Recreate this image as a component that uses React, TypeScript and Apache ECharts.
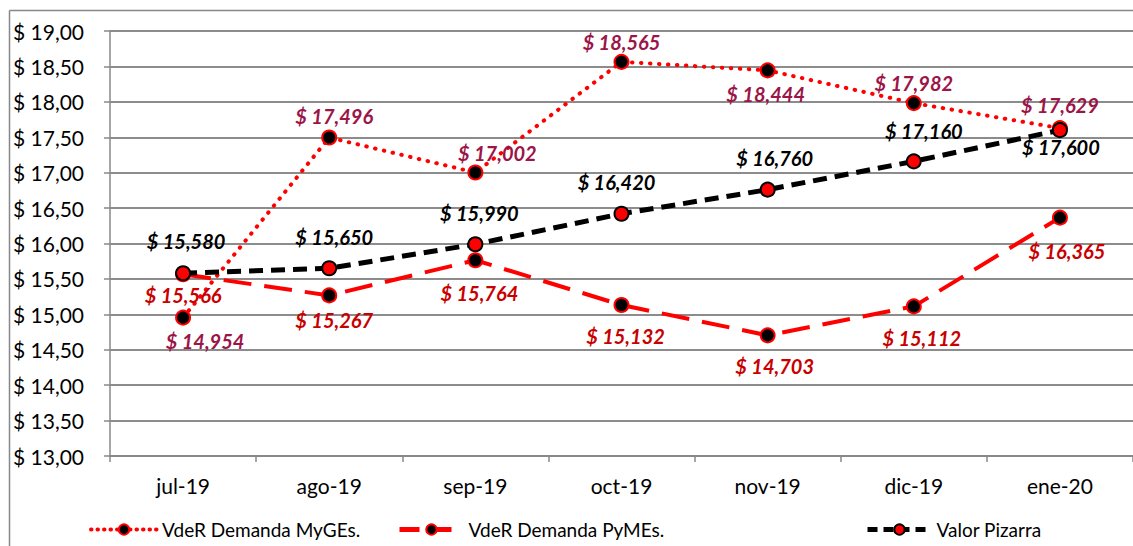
import React, { useEffect, useRef } from "react";
import * as echarts from "echarts";

const categories = ["jul-19", "ago-19", "sep-19", "oct-19", "nov-19", "dic-19", "ene-20"];
const mygesValues = [14.954, 17.496, 17.002, 18.565, 18.444, 17.982, 17.629];
const pymesValues = [15.566, 15.267, 15.764, 15.132, 14.703, 15.112, 16.365];
const pizarraValues = [15.58, 15.65, 15.99, 16.42, 16.76, 17.16, 17.6];

const mygesLabelOffsets = [[22, 23], [5, -22], [22, -20], [0, -20], [-2, 24], [0, -20], [0, -23]];
const pymesLabelOffsets = [[0, 21], [5, 25], [4, 33], [4, 31], [7, 31], [8, 32], [7, 33]];
const pizarraLabelOffsets = [[3, -32], [5, -31], [4, -31], [-5, -32], [7, -32], [10, -30], [1, 17]];

const FONT = "Lato, 'Open Sans', sans-serif";

const fmt = (v: number, d: number) => "$ " + v.toFixed(d).replace(".", ",");

function buildData(values: number[], offsets: number[][]) {
  return values.map((v, i) => ({
    value: v,
    label: { offset: offsets[i] },
  }));
}

export default function App() {
  const ref = useRef<HTMLDivElement>(null);
  useEffect(() => {
    if (!ref.current) return;
    const chart = echarts.init(ref.current, undefined, { renderer: "svg" });
    const labelBase = {
      show: true,
      position: "inside" as const,
      fontFamily: FONT,
      fontSize: 20,
      fontWeight: "bold" as const,
      fontStyle: "italic" as const,
      formatter: (p: any) => fmt(p.value, 3),
    };
    const legendText = { fontFamily: FONT, fontSize: 19, color: "#000" };
    chart.setOption({
      animation: false,
      backgroundColor: "#fff",
      grid: { left: 110, top: 31, width: 1025, height: 425, containLabel: false },
      graphic: [
        { type: "line", shape: { x1: 9.5, y1: 10.5, x2: 1140, y2: 10.5 }, style: { stroke: "#888", lineWidth: 1.5 } },
        { type: "line", shape: { x1: 9.5, y1: 10.5, x2: 9.5, y2: 560 }, style: { stroke: "#888", lineWidth: 1.5 } },
      ],
      legend: [
        {
          data: ["VdeR Demanda MyGEs."],
          left: 84, top: 515, itemWidth: 66, itemHeight: 13, itemGap: 6,
          textStyle: legendText,
          lineStyle: { width: 4, type: [0.5, 6], cap: "round" },
        },
        {
          data: ["VdeR Demanda PyMEs."],
          left: 392, top: 515, itemWidth: 64, itemHeight: 13,
          textStyle: legendText,
          lineStyle: { width: 5, type: [20, 12] },
        },
        {
          data: ["Valor Pizarra"],
          left: 860, top: 515, itemWidth: 64, itemHeight: 13,
          textStyle: legendText,
          lineStyle: { width: 5, type: [10, 6] },
        },
      ],
      xAxis: {
        type: "category",
        data: categories,
        boundaryGap: true,
        axisLine: { lineStyle: { color: "#888", width: 1.5 } },
        axisTick: { show: true, length: 6, lineStyle: { color: "#888", width: 1.5 } },
        axisLabel: { fontFamily: FONT, fontSize: 21, color: "#000", margin: 19 },
      },
      yAxis: {
        type: "value",
        min: 13,
        max: 19,
        interval: 0.5,
        axisLine: { show: true, lineStyle: { color: "#888", width: 1.5 } },
        axisTick: { show: true, length: 6, lineStyle: { color: "#888", width: 1.5 } },
        splitLine: { lineStyle: { color: "#8c8c8c", width: 2 } },
        axisLabel: {
          fontFamily: FONT,
          fontSize: 21,
          color: "#000",
          align: "left",
          margin: 97,
          formatter: (v: number) => fmt(v, 2),
        },
      },
      series: [
        {
          name: "VdeR Demanda MyGEs.",
          type: "line",
          data: buildData(mygesValues, mygesLabelOffsets),
          symbol: "circle",
          symbolSize: 14,
          lineStyle: { color: "#ff0000", width: 4, type: [0.5, 8.5], cap: "round" },
          itemStyle: { color: "#000", borderColor: "#ff0000", borderWidth: 2 },
          label: { ...labelBase, color: "#9b1548" },
          z: 2,
        },
        {
          name: "VdeR Demanda PyMEs.",
          type: "line",
          data: buildData(pymesValues, pymesLabelOffsets),
          symbol: "circle",
          symbolSize: 14,
          lineStyle: { color: "#ff0000", width: 4, type: [28, 13] },
          itemStyle: { color: "#000", borderColor: "#ff0000", borderWidth: 2 },
          label: { ...labelBase, color: "#c80000" },
          z: 3,
        },
        {
          name: "Valor Pizarra",
          type: "line",
          data: buildData(pizarraValues, pizarraLabelOffsets),
          symbol: "circle",
          symbolSize: 14,
          lineStyle: { color: "#000", width: 5, type: [14, 8] },
          itemStyle: { color: "#ff0000", borderColor: "#000", borderWidth: 2 },
          label: { ...labelBase, color: "#000" },
          z: 4,
        },
      ],
    });
    return () => chart.dispose();
  }, []);
  return (
    <div
      ref={ref}
      style={{ position: "absolute", left: 0, top: 0, width: 1133, height: 546 }}
    />
  );
}
